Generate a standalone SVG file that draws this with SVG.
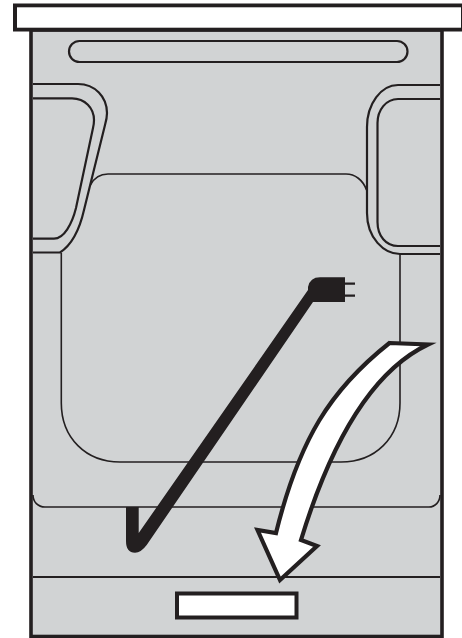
<svg xmlns="http://www.w3.org/2000/svg" width="462" height="638" viewBox="0 0 462 638">
<style>
.l{fill:none;stroke:#231f20;stroke-width:2.200}
.t{fill:none;stroke:#231f20;stroke-width:1.600}
.d{fill:#231f20}
</style>
<rect width="462" height="638" fill="#fff"/>
<rect x="31" y="30" width="411" height="606.500" fill="#d1d3d4" stroke="#231f20" stroke-width="3.600"/>
<path class="d" d="M13,3.500H462V31.500H13Z"/>
<rect x="17" y="7.300" width="444" height="20.400" fill="#fff"/>
<rect x="69" y="41" width="338.500" height="21" rx="10.500" class="l"/>
<path class="l" d="M33,84H78C95,84 107,97 107,113Q107,118 105,125L84,210C79,232 70,246 60,252.500H33"/>
<path class="l" d="M33,98.300H72C85,98.300 94,108 94,120Q94,124 93,128L76,208C72,224 64,238.700 54,238.700H33"/>
<path class="l" d="M440,85H398C381,85 367,104 367,127V213C367,238 384,254 400,254H440"/>
<path class="l" d="M440,99H398C386,99 377.500,110 377.500,123V222C377.500,236 386,246 398,246H440"/>
<path class="t" d="M90.500,185C94,178 100,174 108,174H346C355,174 363,180 366.500,190"/>
<path class="t" d="M61.300,253V403C61.300,438 86,462 120,462H341C375,462 400,438 400,403V254"/>
<path class="t" d="M33,495C33,502 38,507 45,507H429C435,507 440,502 440,495"/>
<path class="l" d="M33,577H440"/>
<rect x="177" y="593.500" width="119.500" height="24" fill="#fff" stroke="#231f20" stroke-width="4"/>
<path class="d" d="M126,507V541Q126,552.700 135,552.700Q141,552.700 146.700,545L313,302H345V277.300H320Q310,277.300 308,287V290L138.700,533V507Z"/>
<path class="l" d="M345,283.700H355M345,295.700H355"/>
<path d="M389.500,343L428,344.500C370,372 330,445 301,540L317,546L280,580L257.500,530L276,533C299,440 330,390 389.500,343Z" fill="#fff" stroke="#231f20" stroke-width="4.200" stroke-linejoin="miter" stroke-miterlimit="12"/>
</svg>
